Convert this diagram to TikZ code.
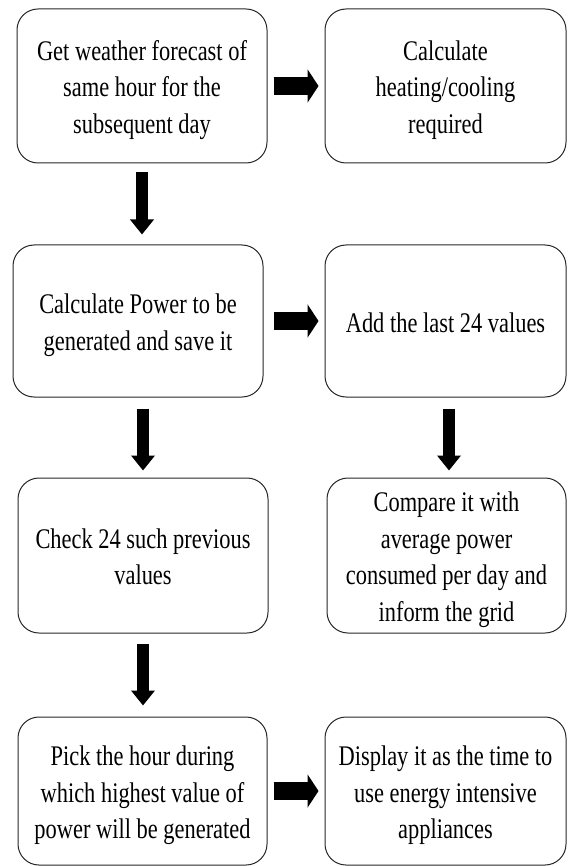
\documentclass[tikz,border=0pt]{standalone}
\usepackage{fontspec}
\setmainfont[FakeStretch=0.79]{Liberation Serif}
\usetikzlibrary{arrows.meta}
\newcommand\vs{\rule[-7.25pt]{0pt}{36.5pt}}
\begin{document}
\begin{tikzpicture}[x=1pt,y=-1pt,
  box/.style={draw=black!85, line width=1pt, rounded corners=21pt, inner sep=0pt,
    align=center, font=\fontsize{28.4pt}{36.5pt}\selectfont},
  harrow/.style={line width=18pt, -{Triangle[length=11pt,width=33pt]}},
  varrow/.style={line width=12pt, -{Triangle[length=15pt,width=23pt]}}]
\useasboundingbox (0,0) rectangle (569,866);
% row 1
\node[box, minimum width=250pt, minimum height=154pt] (b1) at (142,86)
  {\vs Get weather forecast of\\ \vs same hour for the\\ \vs subsequent day};
\node[box, minimum width=241pt, minimum height=154pt] (b2) at (445.5,86)
  {\vs Calculate\\ \vs heating/cooling\\ \vs required};
% row 2
\node[box, minimum width=250pt, minimum height=152pt] (b3) at (138,321)
  {\vs Calculate Power to be\\ \vs generated and save it};
\node[box, minimum width=241pt, minimum height=152pt] (b4) at (445.5,321)
  {\vs Add the last 24 values};
% row 3
\node[box, minimum width=250pt, minimum height=155pt] (b5) at (143,555.5)
  {\vs Check 24 such previous\\ \vs values};
\node[box, minimum width=239pt, minimum height=155pt] (b6) at (446.5,555.5)
  {\vs Compare it with\\ \vs average power\\ \vs consumed per day and\\ \vs inform the grid};
% row 4
\node[box, minimum width=249pt, minimum height=148pt] (b7) at (142.5,791)
  {\vs Pick the hour during\\ \vs which highest value of\\ \vs power will be generated};
\node[box, minimum width=241pt, minimum height=148pt] (b8) at (445.5,791)
  {\vs Display it as the time to\\ \vs use energy intensive\\ \vs appliances};
% arrows
\draw[harrow] ([xshift=6pt]b1.east) -- ([xshift=-6pt]b2.west |- b1.east);
\draw[harrow] ([xshift=10pt]b3.east) -- ([xshift=-6pt]b4.west |- b3.east);
\draw[harrow] ([xshift=6pt]b7.east) -- ([xshift=-6pt]b8.west |- b7.east);
\draw[varrow] ([yshift=-9pt]b1.south) -- ([yshift=10pt]b1.south |- b3.north);
\draw[varrow] ([yshift=-11pt]b5.north |- b3.south) -- ([yshift=7pt]b5.north);
\draw[varrow] ([xshift=2.5pt,yshift=-11pt]b6.north |- b4.south) -- ([xshift=2.5pt,yshift=7pt]b6.north);
\draw[varrow] ([yshift=-10pt]b5.south) -- ([yshift=11pt]b5.south |- b7.north);
\end{tikzpicture}
\end{document}
